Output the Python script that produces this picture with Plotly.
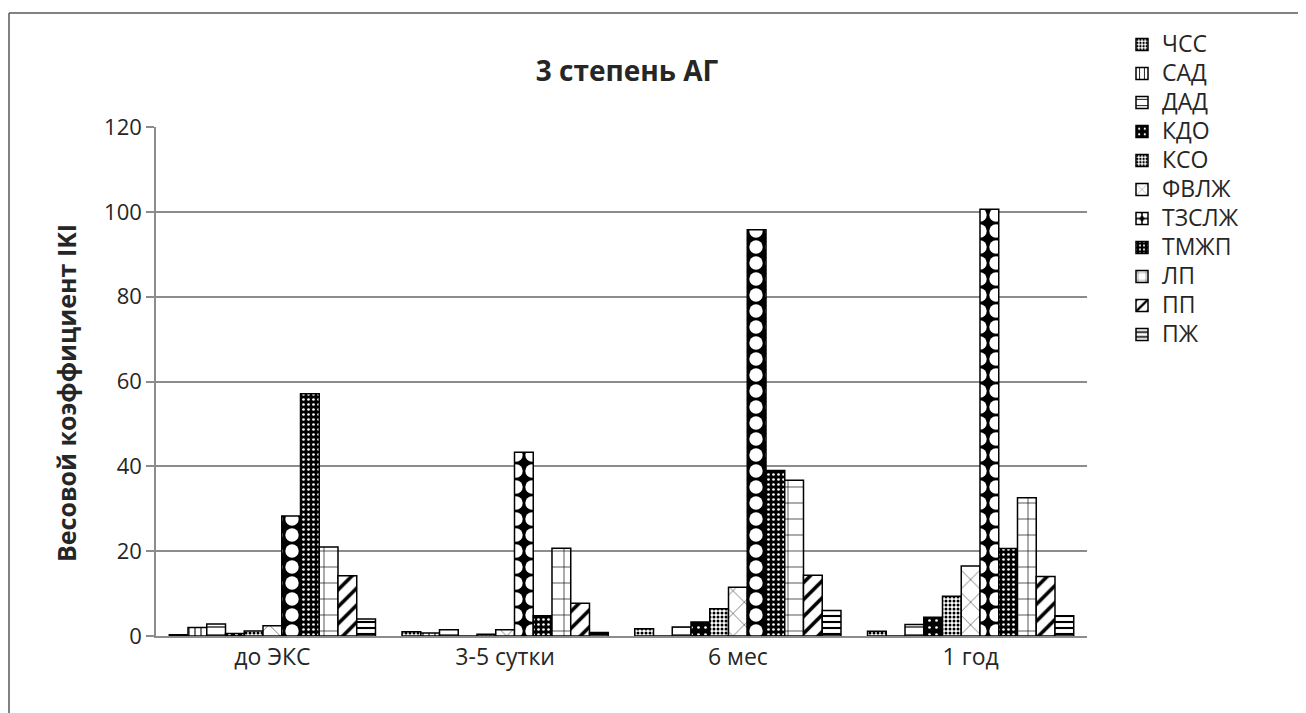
import plotly.graph_objects as go

categories = ["до ЭКС", "3-5 сутки", "6 мес", "1 год"]

series_names = ["ЧСС", "САД", "ДАД", "КДО", "КСО", "ФВЛЖ", "ТЗСЛЖ", "ТМЖП", "ЛП", "ПП", "ПЖ"]

chss = [0.3, 1.0, 1.7, 1.1]
sad = [2.0, 0.7, 0.0, 0.0]
dad = [2.8, 1.5, 2.1, 2.7]
kdo = [0.6, 0.0, 3.3, 4.4]
kso = [1.2, 0.4, 6.4, 9.4]
fvlzh = [2.4, 1.5, 11.5, 16.5]
tzslzh = [28.3, 43.3, 95.8, 100.6]
tmzhp = [57.1, 4.8, 39.0, 20.6]
lp = [21.0, 20.7, 36.7, 32.6]
pp = [14.2, 7.7, 14.3, 14.0]
pzh = [4.0, 0.8, 6.0, 4.8]

y_ticks = [0, 20, 40, 60, 80, 100, 120]

values = [chss, sad, dad, kdo, kso, fvlzh, tzslzh, tmzhp, lp, pp, pzh]

# pattern styles: (shape, size, solidity, fg, bg)
styles = [
    (".", 4, 0.45, "black", "white"),
    ("|", 6, 0.18, "black", "white"),
    ("-", 8, 0.15, "black", "white"),
    (".", 7, 0.12, "white", "black"),
    (".", 4, 0.45, "black", "white"),
    ("x", 16, 0.06, "black", "white"),
    (".", 16, 0.55, "white", "black"),
    (".", 5, 0.22, "white", "black"),
    ("+", 16, 0.08, "black", "white"),
    ("/", 12, 0.3, "black", "white"),
    ("-", 6, 0.35, "black", "white"),
]

# page offset of 8px (body margin) taken into account
OFF = 8
W, H = 1306 - OFF, 713 - OFF
L, R, T, B = 156 - OFF, 1087 - OFF, 127 - OFF, 636 - OFF

fig = go.Figure()
for name, vals, st in zip(series_names, values, styles):
    shape, size, sol, fg, bg = st
    fig.add_trace(go.Bar(
        name='<span style="font-size:23px">' + name + '</span>',
        x=categories, y=vals,
        marker=dict(
            color=bg,
            line=dict(color="black", width=1.5),
            pattern=dict(shape=shape, size=size, solidity=sol,
                         fgcolor=fg, bgcolor=bg, fillmode="replace"),
        ),
    ))

def px(xp):
    return (xp - OFF - L) / (R - L)

def py(yp):
    return (B - (yp - OFF)) / (B - T)

grid = "#8c8c8c"
txt = "#262626"
fig.update_layout(
    width=W, height=H,
    margin=dict(l=L, r=W - R, t=T, b=H - B, autoexpand=False),
    paper_bgcolor="white", plot_bgcolor="white",
    font=dict(family="Open Sans", size=22, color=txt),
    barmode="group", bargap=0.114, bargroupgap=0,
    title=dict(text="<b>3 степень АГ</b>", xref="paper", x=px(627),
               xanchor="center",
               y=1 - (71 - OFF) / H, yanchor="middle",
               font=dict(size=28, color=txt)),
    legend=dict(x=px(1122), xanchor="left", y=py(25), yanchor="top",
                font=dict(size=20, color=txt),
                bgcolor="rgba(0,0,0,0)", itemclick=False),
    showlegend=True,
    xaxis=dict(showline=True, linecolor=grid, linewidth=1.5,
               ticks="", showgrid=False,
               tickfont=dict(size=23, color=txt)),
    yaxis=dict(range=[0, 120], tickvals=y_ticks, showgrid=True,
               gridcolor=grid, gridwidth=1.5, zeroline=False,
               showline=True, linecolor=grid, linewidth=1.5,
               ticks="outside", ticklen=8, tickcolor=grid, tickwidth=1.5,
               tickfont=dict(size=22, color=txt)),
    annotations=[
        dict(text="<b>Весовой коэффициент IKI</b>", textangle=-90,
             xref="paper", yref="paper", x=px(66), y=py(393),
             xanchor="center", yanchor="middle", showarrow=False,
             font=dict(size=25, color=txt)),
    ],
    shapes=[
        dict(type="line", xref="paper", yref="paper",
             x0=px(9), x1=px(1330), y0=py(13), y1=py(13),
             line=dict(color="#595959", width=1.5)),
        dict(type="line", xref="paper", yref="paper",
             x0=px(9), x1=px(9), y0=py(13), y1=py(740),
             line=dict(color="#595959", width=1.5)),
    ],
)

fig.write_html("out.html")
